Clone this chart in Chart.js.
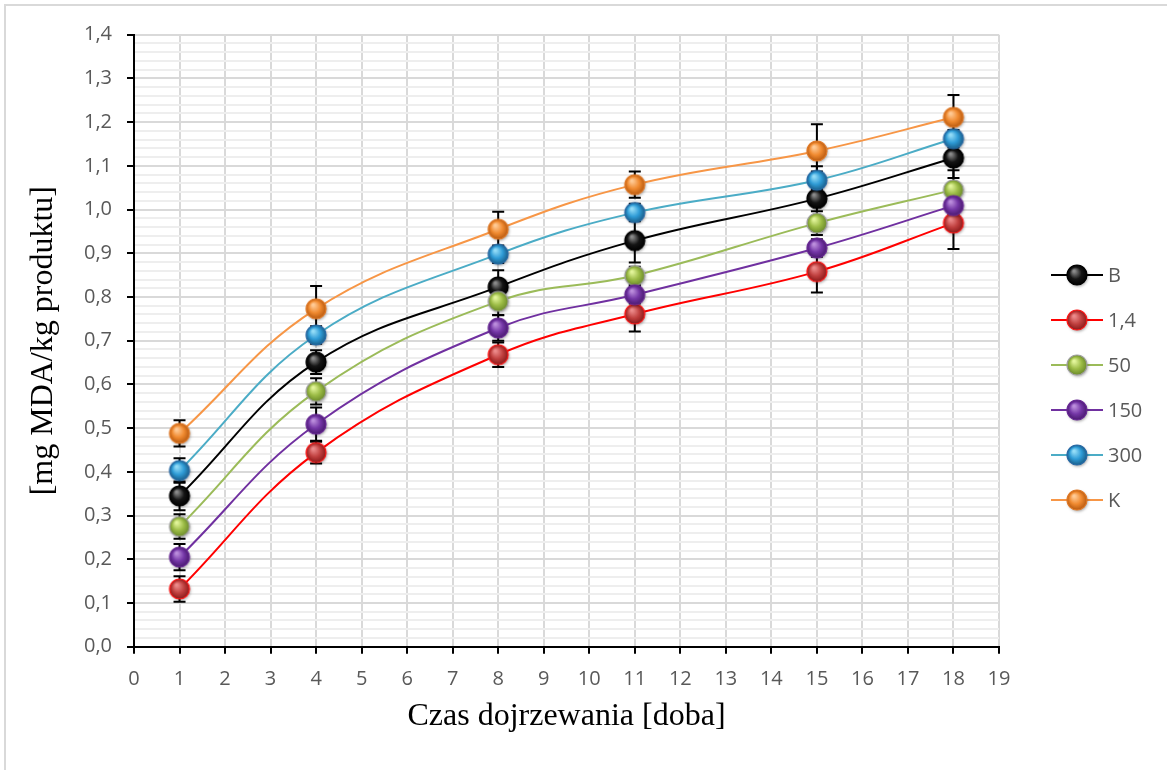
<!DOCTYPE html>
<html>
<head>
<meta charset="utf-8">
<title>MDA</title>
<script src="https://cdn.jsdelivr.net/npm/chart.js@4.4.1/dist/chart.umd.min.js"></script>
<style>
  html, body { margin: 0; padding: 0; background: #fff; }
  #wrap { width: 1167px; height: 770px; position: relative; }
</style>
</head>
<body>
<div id="wrap"><canvas id="c" width="1167" height="770"></canvas></div>
<script>
// Sampling days
const days = [1, 4, 8, 11, 15, 18];

// Series names
const seriesNames = ['B', '1,4', '50', '150', '300', 'K'];

// Mean values [mg MDA/kg produktu]
const valB   = [0.345, 0.651, 0.823, 0.929, 1.025, 1.118];
const val14  = [0.132, 0.444, 0.668, 0.761, 0.858, 0.969];
const val50  = [0.275, 0.584, 0.790, 0.849, 0.969, 1.045];
const val150 = [0.205, 0.509, 0.729, 0.805, 0.912, 1.009];
const val300 = [0.403, 0.713, 0.898, 0.993, 1.067, 1.162];
const valK   = [0.488, 0.773, 0.955, 1.057, 1.134, 1.211];

// Standard deviations (error bars)
const errB   = [0.033, 0.027, 0.038, 0.050, 0.074, 0.046];
const err14  = [0.029, 0.025, 0.028, 0.040, 0.048, 0.059];
const err50  = [0.028, 0.030, 0.031, 0.020, 0.027, 0.045];
const err150 = [0.030, 0.038, 0.029, 0.020, 0.020, 0.020];
const err300 = [0.028, 0.020, 0.020, 0.020, 0.020, 0.020];
const errK   = [0.030, 0.052, 0.040, 0.030, 0.061, 0.051];

// Axis tick labels
const xTickLabels = ['0','1','2','3','4','5','6','7','8','9','10','11','12','13','14','15','16','17','18','19'];
const yTickLabels = ['0,0','0,1','0,2','0,3','0,4','0,5','0,6','0,7','0,8','0,9','1,0','1,1','1,2','1,3','1,4'];

// Glossy sphere marker
function sphere(base, light, dark, rim) {
  const s = 28, r = 10;
  const c = document.createElement('canvas');
  c.width = s; c.height = s;
  const g = c.getContext('2d');
  const cx = s / 2, cy = s / 2;
  g.save();
  g.shadowColor = 'rgba(0,0,0,0.35)';
  g.shadowBlur = 3; g.shadowOffsetX = 1; g.shadowOffsetY = 1.5;
  g.beginPath(); g.arc(cx, cy, r, 0, Math.PI * 2);
  g.fillStyle = base; g.fill();
  g.restore();
  const grad = g.createRadialGradient(cx - 3, cy - 4, 1, cx, cy, r);
  grad.addColorStop(0, light);
  grad.addColorStop(0.55, base);
  grad.addColorStop(1, dark);
  g.beginPath(); g.arc(cx, cy, r, 0, Math.PI * 2);
  g.fillStyle = grad; g.fill();
  g.lineWidth = 1.2; g.strokeStyle = rim; g.stroke();
  return c;
}

const styles = [
  { line: '#000000', marker: sphere('#151515', '#8a8a8a', '#000000', '#000000') },
  { line: '#FF0000', marker: sphere('#c0403f', '#ec8a8a', '#8a1a1a', '#ff1a1a') },
  { line: '#9BBB59', marker: sphere('#9bbb45', '#e2f59a', '#6b8a2a', '#a0a0a0') },
  { line: '#7030A0', marker: sphere('#7436a6', '#bb8ddc', '#4a1a70', '#6a2a96') },
  { line: '#4BACC6', marker: sphere('#2e9bd6', '#93dcf7', '#1a5f8a', '#2a6aa6') },
  { line: '#F79646', marker: sphere('#f08a30', '#ffca95', '#b85a10', '#e07a28') }
];

const values = [valB, val14, val50, val150, val300, valK];
const errors = [errB, err14, err50, err150, err300, errK];

const datasets = seriesNames.map((name, i) => ({
  label: name,
  data: days.map((d, j) => ({ x: d, y: values[i][j] })),
  errors: errors[i],
  borderColor: styles[i].line,
  backgroundColor: styles[i].line,
  borderWidth: 2,
  tension: 0.4,
  pointStyle: styles[i].marker,
  pointRadius: 10,
  pointHoverRadius: 10,
  order: seriesNames.length - i,
  clip: false
}));

const isMajor = (v) => Math.abs(v * 10 - Math.round(v * 10)) < 1e-6;

// White background and light frame
const framePlugin = {
  id: 'frame',
  beforeDraw(chart) {
    const ctx = chart.ctx;
    ctx.save();
    ctx.fillStyle = '#fff';
    ctx.fillRect(0, 0, chart.width, chart.height);
    ctx.strokeStyle = '#D9D9D9';
    ctx.lineWidth = 2;
    ctx.beginPath();
    ctx.moveTo(5, chart.height);
    ctx.lineTo(5, 5);
    ctx.lineTo(chart.width, 5);
    ctx.stroke();
    ctx.restore();
  }
};

// Vertical error bars with caps
const errorBarPlugin = {
  id: 'errorBars',
  beforeDatasetsDraw(chart) {
    const ctx = chart.ctx;
    const xs = chart.scales.x, ys = chart.scales.y;
    ctx.save();
    ctx.strokeStyle = '#000';
    ctx.lineWidth = 2;
    chart.data.datasets.forEach((ds) => {
      ds.data.forEach((p, j) => {
        const e = ds.errors[j];
        const px = xs.getPixelForValue(p.x);
        const yt = ys.getPixelForValue(p.y + e);
        const yb = ys.getPixelForValue(p.y - e);
        ctx.beginPath();
        ctx.moveTo(px, yt); ctx.lineTo(px, yb);
        ctx.moveTo(px - 6, yt); ctx.lineTo(px + 6, yt);
        ctx.moveTo(px - 6, yb); ctx.lineTo(px + 6, yb);
        ctx.stroke();
      });
    });
    ctx.restore();
  }
};

// Legend on the right side
const sideLegendPlugin = {
  id: 'sideLegend',
  afterDraw(chart) {
    const ctx = chart.ctx;
    ctx.save();
    chart.data.datasets.forEach((ds, i) => {
      const y = 275 + i * 45;
      ctx.strokeStyle = ds.borderColor;
      ctx.lineWidth = 2;
      ctx.beginPath();
      ctx.moveTo(1051, y); ctx.lineTo(1103, y);
      ctx.stroke();
      const m = ds.pointStyle;
      ctx.drawImage(m, 1077 - m.width / 2, y - m.height / 2);
      ctx.fillStyle = '#595959';
      ctx.font = '20px "Open Sans", sans-serif';
      ctx.textBaseline = 'middle';
      ctx.textAlign = 'left';
      ctx.fillText(ds.label, 1108, y + 1);
    });
    ctx.restore();
  }
};

const tickFont = { family: '"Open Sans", sans-serif', size: 20 };
const titleFont = { family: '"Liberation Serif", "Times New Roman", serif', size: 32 };

new Chart(document.getElementById('c'), {
  type: 'line',
  data: { datasets },
  options: {
    responsive: false,
    animation: false,
    devicePixelRatio: 1,
    layout: { padding: { top: 34.7, right: 168, bottom: 0, left: 0 } },
    plugins: {
      legend: { display: false },
      tooltip: { enabled: false }
    },
    scales: {
      x: {
        type: 'linear',
        min: 0, max: 19,
        afterFit: (s) => { s.height = 770 - 646.7; },
        ticks: {
          stepSize: 1,
          autoSkip: false,
          maxRotation: 0,
          color: '#595959',
          font: tickFont,
          padding: 14,
          callback: (v) => xTickLabels[v]
        },
        grid: {
          color: '#D9D9D9',
          lineWidth: 2,
          tickColor: '#000',
          tickLength: 7,
          tickWidth: 2
        },
        border: { display: true, color: '#000', width: 2 },
        title: {
          display: true,
          text: 'Czas dojrzewania [doba]',
          color: '#000',
          font: titleFont,
          padding: { top: 0, bottom: 34 }
        }
      },
      y: {
        type: 'linear',
        min: 0, max: 1.4,
        afterFit: (s) => { s.width = 134; },
        ticks: {
          stepSize: 0.02,
          maxTicksLimit: 100,
          autoSkip: false,
          color: '#595959',
          font: tickFont,
          padding: 15,
          callback: (v) => isMajor(v) ? yTickLabels[Math.round(v * 10)] : ''
        },
        grid: {
          color: (c) => isMajor(c.tick.value) ? '#D9D9D9' : '#EEEEEE',
          lineWidth: 2,
          tickColor: (c) => isMajor(c.tick.value) ? '#000' : 'rgba(0,0,0,0)',
          tickLength: 7,
          tickWidth: 2
        },
        border: { display: true, color: '#000', width: 2 },
        title: {
          display: true,
          text: '[mg MDA/kg produktu]',
          color: '#000',
          font: titleFont,
          padding: { top: 24, bottom: 0 }
        }
      }
    }
  },
  plugins: [framePlugin, errorBarPlugin, sideLegendPlugin]
});
</script>
</body>
</html>
